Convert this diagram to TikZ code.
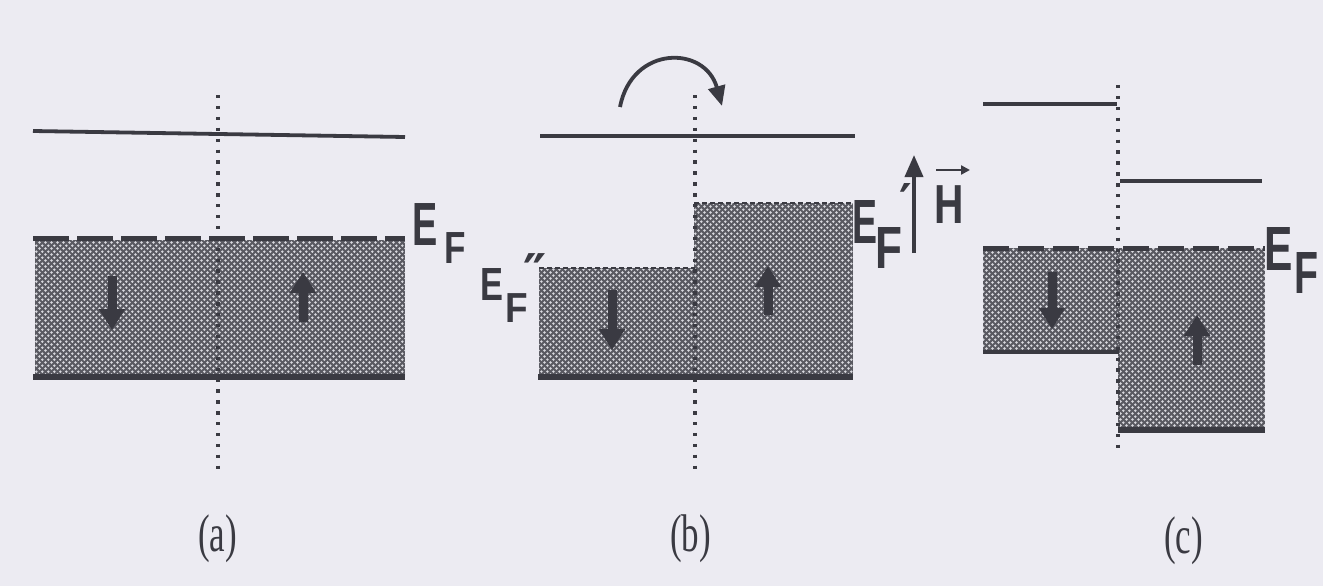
\documentclass[tikz,border=0pt]{standalone}
\usepackage{fontspec}
\setmainfont{Liberation Serif}
\newfontfamily\labsans{Liberation Sans Bold}
\newfontfamily\djv{DejaVu Sans Bold}
\usetikzlibrary{arrows.meta,patterns.meta}
\definecolor{bg}{HTML}{ECEBF2}
\definecolor{ink}{HTML}{3A3A42}
\definecolor{bandgray}{HTML}{5A5A62}
\definecolor{dotlight}{HTML}{D8D8DE}
\tikzdeclarepattern{
  name=stipple,
  type=uncolored,
  bounding box={(0pt,0pt) and (6.4pt,6.4pt)},
  tile size={(6.4pt,6.4pt)},
  code={
    \pgfpathcircle{\pgfpoint{1.6pt}{1.6pt}}{1.45pt}
    \pgfpathcircle{\pgfpoint{4.8pt}{4.8pt}}{1.45pt}
    \pgfusepath{fill}
  }
}
\newcommand\slab[3]{\scalebox{#2}[1]{\fontsize{#1}{#1}\selectfont\labsans #3}}
\newcommand\rlab[1]{\scalebox{0.66}[1]{\fontsize{53}{53}\selectfont #1}}
\begin{document}
\begin{tikzpicture}[x=1pt,y=-1pt,
  band/.style={preaction={fill=bandgray}, pattern=stipple, pattern color=dotlight},
  level/.style={draw=ink, line width=3.8pt},
  floor/.style={draw=ink, line width=6pt},
  fermi/.style={draw=ink, line width=5pt, dash pattern=on 36pt off 8pt},
  fermic/.style={draw=ink, line width=5pt, dash pattern=on 26pt off 9pt},
  edge/.style={draw=ink, line width=2.5pt, dash pattern=on 5pt off 3pt},
  dotline/.style={draw=ink, line width=3.4pt, dash pattern=on 3.4pt off 7.5pt},
  spin/.style={draw=ink, line width=9pt, -{Triangle[length=21pt,width=25pt]}},
  field/.style={draw=ink, line width=3.8pt, -{Triangle[length=22pt,width=18pt]}},
  txt/.style={inner sep=0pt, anchor=base west, text=ink},
  primemark/.style={inner sep=0pt, anchor=north west, text=ink}
]
\useasboundingbox[fill=bg] (0,0) rectangle (1323,586);

% ---------- panel (a)
\fill[band] (35,240) rectangle (405,377);
\draw[level] (33,131) -- (218,134) -- (405,137);
\draw[fermi] (33,238) -- (405,238);
\draw[floor] (33,377) -- (405,377);
\draw[dotline] (218,95) -- (218,472);
\draw[spin] (112,276) -- (112,330);
\draw[spin] (303,322) -- (303,272);
\node[txt] (aE) at (412,245) {\slab{61}{0.62}{E}};
\node[txt] (aF) at (444,263) {\slab{45}{0.78}{F}};
\node[txt] (alab) at (198,551) {\rlab{(a)}};

% ---------- panel (b)
\fill[band] (539,268) rectangle (695,377);
\fill[band] (694,203) rectangle (853,377);
\draw[edge] (539,268) -- (695,268);
\draw[edge] (694,203) -- (853,203);
\draw[level] (540,136) -- (855,136);
\draw[floor] (538,377) -- (853,377);
\draw[dotline] (695,95) -- (695,476);
\draw[spin] (612,290) -- (612,350);
\draw[spin] (768,315) -- (768,266);
\draw[draw=ink, line width=3.8pt, -{Triangle[length=20pt,width=17pt]}]
  (620,107) .. controls (632,45) and (705,45) .. (722,106);
\node[txt] (bE2) at (480.5,300) {\slab{46.5}{0.74}{E}};
\node[txt] (bF2) at (505.5,322) {\slab{42}{0.88}{F}};
\node[primemark] (bpp) at (523,253) {\fontsize{52}{52}\selectfont\djv ″};
\node[txt] (bE1) at (852.5,243) {\slab{62.5}{0.6}{E}};
\node[txt] (bF1) at (875.5,268) {\slab{59.6}{0.74}{F}};
\node[primemark] (bp) at (899,183) {\fontsize{48}{48}\selectfont\djv ′};
\draw[field] (914,253) -- (914,155);
\node[txt] (hlab) at (934,223) {\slab{55}{0.74}{H}};
\draw[draw=ink, line width=2.6pt, -{Triangle[length=9pt,width=9pt]}]
  (936,170) -- (970,170);
\node[txt] (blab) at (670,551) {\rlab{(b)}};

% ---------- panel (c)
\fill[band] (983,248) rectangle (1119,352);
\fill[band] (1118,248) rectangle (1265,430);
\draw[level] (983,104) -- (1117,104);
\draw[level] (1120,181) -- (1262,181);
\draw[fermic] (983,248) -- (1265,248);
\draw[draw=ink, line width=4.5pt] (983,352) -- (1119,352);
\draw[floor] (1118,430) -- (1265,430);
\draw[dotline] (1118,85) -- (1118,448);
\draw[spin] (1052,272) -- (1052,329);
\draw[spin] (1197,365) -- (1197,315);
\node[txt] (cE) at (1264,270) {\slab{62.5}{0.68}{E}};
\node[txt] (cF) at (1294,293) {\slab{59.6}{0.66}{F}};
\node[txt] (clab) at (1164,553) {\rlab{(c)}};
\end{tikzpicture}
\end{document}
